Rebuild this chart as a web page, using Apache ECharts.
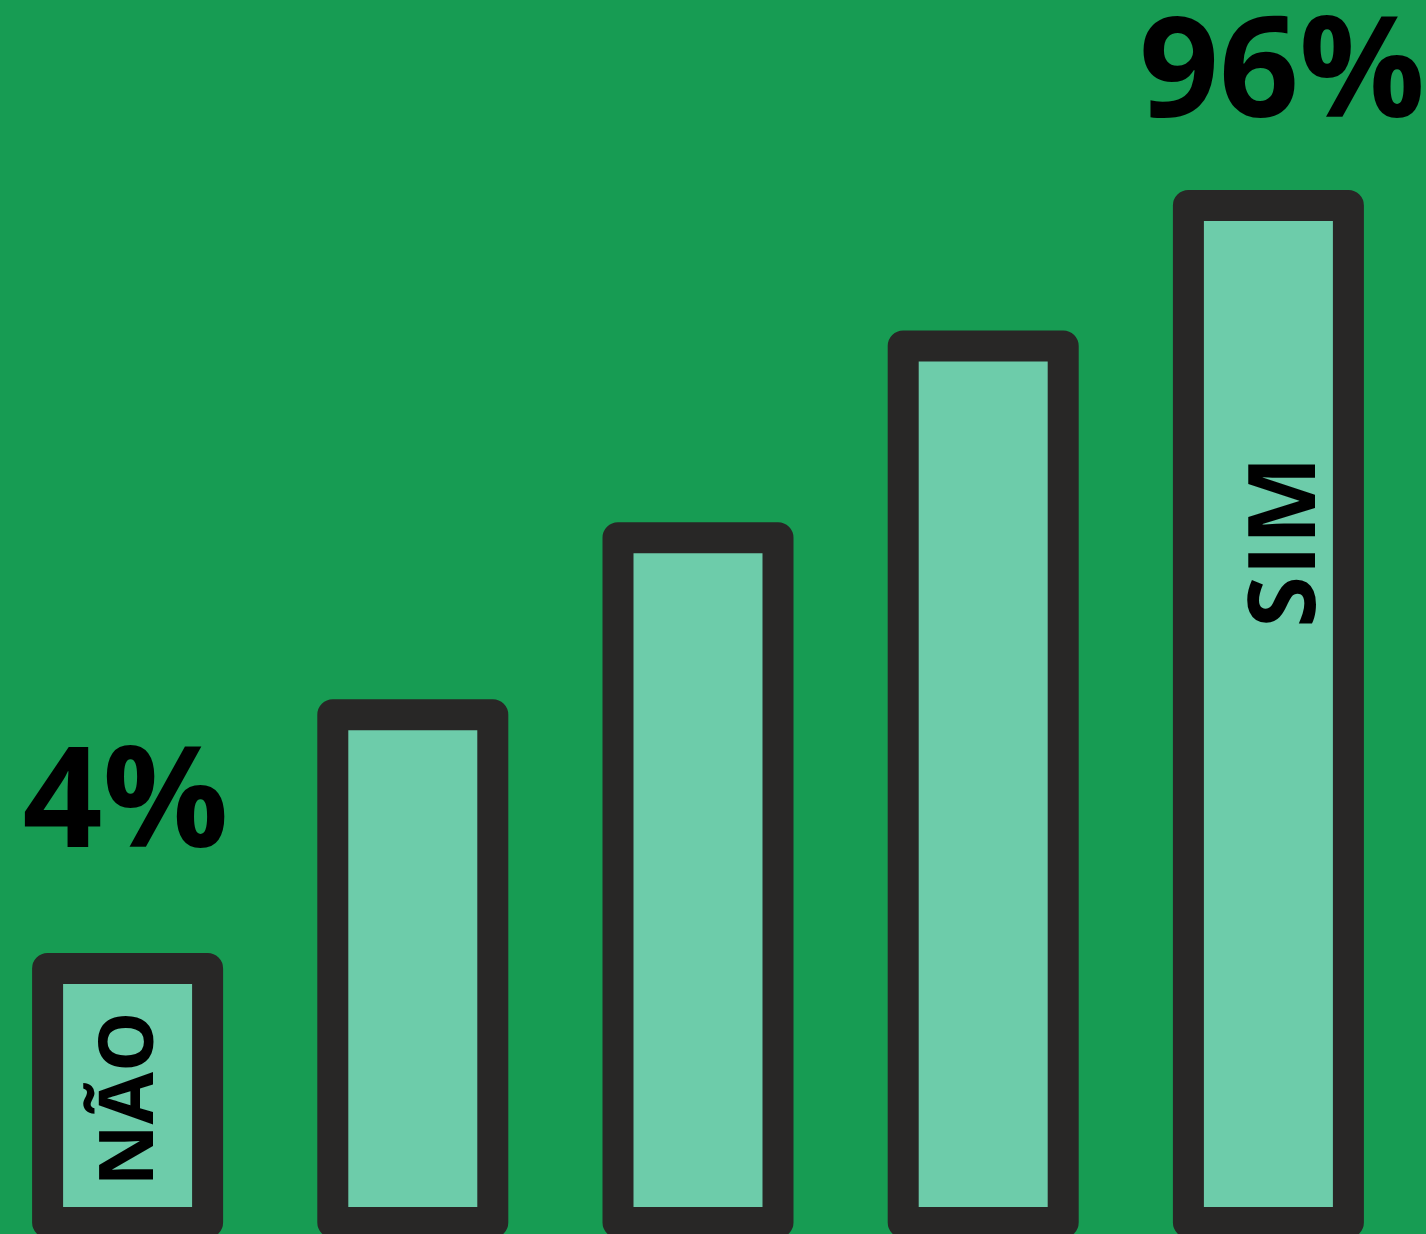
<!DOCTYPE html>
<html>
<head>
<meta charset="utf-8">
<script src="https://cdn.jsdelivr.net/npm/echarts@6/dist/echarts.min.js"></script>
<style>
html,body{margin:0;padding:0;background:#179C53;overflow:hidden;width:1426px;height:1234px;}
#chart{position:absolute;left:-15px;top:0;width:1441px;height:1240px;}
</style>
</head>
<body>
<div id="chart"></div>
<script>
const categories = ['1', '2', '3', '4', '5'];
const barValues = [27.2, 51.4, 68.3, 86.6, 100];
const barNames = ['NÃO', '', '', '', 'SIM'];
const percentLabels = ['4%', '', '', '', '96%'];

const nameLabelStyle = [
  { fontSize: 76, offset: [-3.5, 3.6] },
  null, null, null,
  { fontSize: 94, offset: [172, 20] }
];
const pctLabelStyle = [
  { offset: [-2, 0], distance: 76 },
  null, null, null,
  { offset: [13.6, 0], distance: 43 }
];

const chart = echarts.init(document.getElementById('chart'), null, { renderer: 'canvas' });

const barData = barValues.map((v, i) => {
  const item = { value: v, name: barNames[i] };
  if (barNames[i]) {
    item.label = {
      show: true,
      position: 'inside',
      rotate: 90,
      formatter: barNames[i],
      fontFamily: 'Open Sans',
      fontWeight: 'bold',
      color: '#000',
      fontSize: nameLabelStyle[i].fontSize,
      offset: nameLabelStyle[i].offset
    };
  }
  return item;
});

const pctData = barValues.map((v, i) => {
  const item = { value: v };
  if (percentLabels[i]) {
    item.label = {
      show: true,
      position: 'top',
      formatter: percentLabels[i],
      fontFamily: 'Open Sans',
      fontWeight: 'bold',
      fontSize: 140,
      lineHeight: 140,
      color: '#000',
      distance: pctLabelStyle[i].distance,
      offset: pctLabelStyle[i].offset
    };
  }
  return item;
});

chart.setOption({
  backgroundColor: '#179C53',
  animation: false,
  grid: { left: 0, right: 15, top: 190, bottom: 2, containLabel: false },
  xAxis: {
    type: 'category',
    data: categories,
    show: false
  },
  yAxis: {
    type: 'value',
    min: 0,
    max: 100,
    show: false
  },
  series: [
    {
      type: 'bar',
      data: barData,
      barWidth: 191,
      clip: false,
      itemStyle: {
        color: '#6DCCAA',
        borderColor: '#282726',
        borderWidth: 31,
        borderJoin: 'round',
        borderRadius: 0
      },
      label: { show: false }
    },
    {
      type: 'bar',
      data: pctData,
      barWidth: 191,
      barGap: '-100%',
      clip: false,
      silent: true,
      itemStyle: { color: 'transparent', borderWidth: 0 },
      label: { show: false }
    }
  ]
});
</script>
</body>
</html>
